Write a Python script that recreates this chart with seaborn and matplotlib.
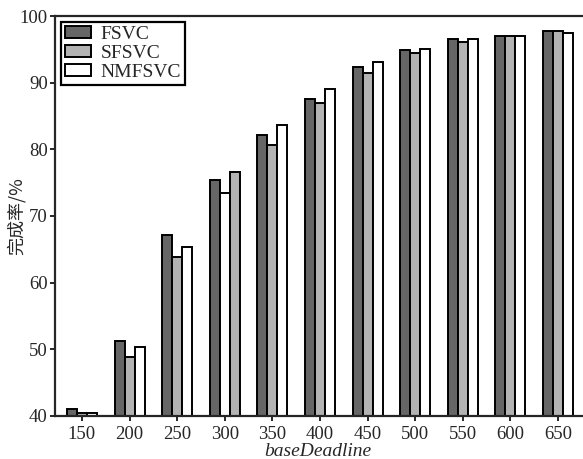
import pandas as pd
import numpy as np
import matplotlib.pyplot as plt
import seaborn as sns

deadlines = ['150', '200', '250', '300', '350', '400', '450', '500', '550', '600', '650']
fsvc = [41.1, 51.3, 67.2, 75.4, 82.1, 87.5, 92.4, 94.9, 96.5, 97.0, 97.8]
sfsvc = [40.4, 48.9, 63.8, 73.5, 80.6, 86.9, 91.4, 94.5, 96.1, 97.0, 97.8]
nmfsvc = [40.4, 50.3, 65.3, 76.6, 83.7, 89.0, 93.1, 95.0, 96.6, 97.0, 97.5]
methods = ['FSVC', 'SFSVC', 'NMFSVC']

df = pd.DataFrame({
    'deadline': deadlines * 3,
    'method': np.repeat(methods, len(deadlines)),
    'rate': fsvc + sfsvc + nmfsvc,
})

sns.set_style('ticks')
plt.rcParams['font.family'] = ['Liberation Serif', 'DejaVu Serif']

fig = plt.figure(figsize=(5.83, 4.59), dpi=100)
ax = fig.add_axes([0.094, 0.094, 0.904, 0.871])

palette = {'FSVC': '#666666', 'SFSVC': '#b3b3b3', 'NMFSVC': '#ffffff'}
sns.barplot(data=df, x='deadline', y='rate', hue='method', order=deadlines,
            hue_order=methods, palette=palette, width=0.63, gap=0,
            edgecolor='black', linewidth=1.4, saturation=1, ax=ax)

# in the source figure the 300 group has the light-gray / white colours swapped
b1, b2 = ax.containers[1][3], ax.containers[2][3]
c1, c2 = b1.get_facecolor(), b2.get_facecolor()
b1.set_facecolor(c2)
b2.set_facecolor(c1)

ax.set_ylim(40, 100)
ax.set_xlim(-0.57, 10.5)
ax.set_yticks(range(40, 101, 10))
ax.tick_params(labelsize=13.5, width=1.4, length=3.5, direction='out')
ax.tick_params(axis='y', pad=1.5)
for s in ['left', 'bottom', 'top']:
    ax.spines[s].set_linewidth(1.6)
ax.spines['right'].set_visible(False)

ax.set_xlabel('baseDeadline', fontsize=14, style='italic', labelpad=0)
ax.set_ylabel('完成率/%', fontsize=13, family=['Noto Sans CJK SC', 'DejaVu Sans'])
ax.yaxis.set_label_coords(-0.056, 0.5)

leg = ax.legend(loc='upper left', fontsize=14, frameon=True, fancybox=False,
                edgecolor='black', framealpha=1, borderaxespad=0.3,
                labelspacing=0.1, handlelength=1.35, handleheight=0.6,
                handletextpad=0.5, borderpad=0.2, title=None)
leg.get_frame().set_linewidth(1.6)

fig.savefig('out.png', dpi=100)
